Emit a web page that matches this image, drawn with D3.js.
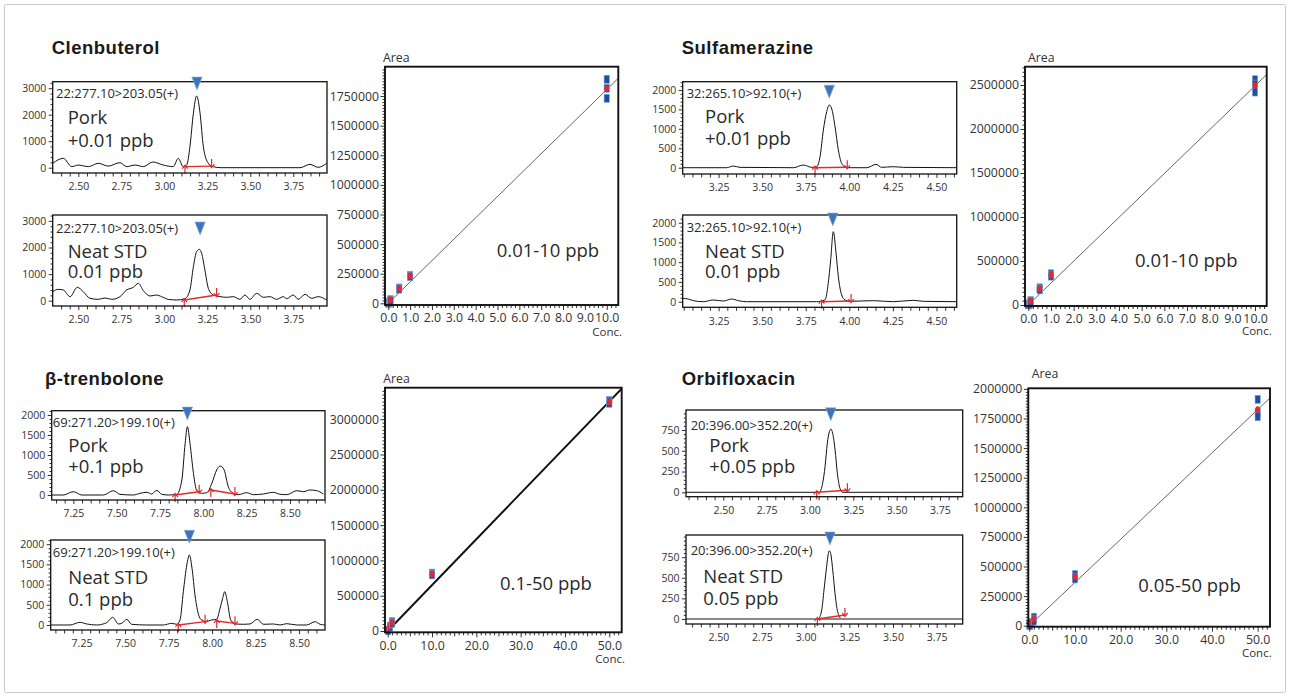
<!DOCTYPE html>
<html>
<head>
<meta charset="utf-8">
<script src="https://cdn.jsdelivr.net/npm/d3@7/dist/d3.min.js"></script>
<style>
html,body{margin:0;padding:0;background:#fff;}
svg{display:block;}
</style>
</head>
<body>
<svg id="chart" width="1290" height="697"></svg>
<script>
// ================= DATA =================
const compounds = ["Clenbuterol", "Sulfamerazine", "β-trenbolone", "Orbifloxacin"];
const transitions = ["22:277.10>203.05(+)", "32:265.10>92.10(+)", "69:271.20>199.10(+)", "20:396.00>352.20(+)"];
const porkLabels = [["Pork", "+0.01 ppb"], ["Pork", "+0.01 ppb"], ["Pork", "+0.1 ppb"], ["Pork", "+0.05 ppb"]];
const stdLabels = [["Neat STD", "0.01 ppb"], ["Neat STD", "0.01 ppb"], ["Neat STD", "0.1 ppb"], ["Neat STD", "0.05 ppb"]];
const rangeLabels = ["0.01-10 ppb", "0.01-10 ppb", "0.1-50 ppb", "0.05-50 ppb"];

// chromatogram tick labels
const clenChromX = [2.50, 2.75, 3.00, 3.25, 3.50, 3.75];
const clenChromY = [0, 1000, 2000, 3000];
const sulfaChromX = [3.25, 3.50, 3.75, 4.00, 4.25, 4.50];
const sulfaChromY = [0, 500, 1000, 1500, 2000];
const trenChromX = [7.25, 7.50, 7.75, 8.00, 8.25, 8.50];
const trenChromY = [0, 500, 1000, 1500, 2000];
const orbiChromX = [2.50, 2.75, 3.00, 3.25, 3.50, 3.75];
const orbiChromY = [0, 250, 500, 750];

// chromatogram traces [retention time (min), intensity]
const clenPorkTrace = [[2.351,166],[2.413,354],[2.462,40],[2.500,100],[2.558,40],[2.616,166],[2.674,60],[2.742,190],[2.781,40],[2.830,100],[2.878,40],[2.933,215],[2.994,100],[3.052,40],[3.081,354],[3.110,38],[3.130,100],[3.149,793],[3.169,2052],[3.188,2706],[3.208,2052],[3.227,793],[3.256,166],[3.285,38],[3.330,0],[3.789,0],[3.847,127],[3.895,14],[3.944,166]];
const clenPorkBase = [[[3.120,40],[3.275,60]]];
const clenPorkApex = [3.190, 2930];
const clenStdTrace = [[2.351,340],[2.384,427],[2.413,403],[2.452,152],[2.494,503],[2.529,340],[2.568,89],[2.616,51],[2.655,102],[2.694,51],[2.742,152],[2.781,403],[2.820,503],[2.849,653],[2.878,377],[2.917,177],[2.955,214],[2.984,152],[3.023,51],[3.071,26],[3.120,76],[3.149,403],[3.169,1280],[3.188,1844],[3.204,1931],[3.217,1781],[3.236,1154],[3.256,465],[3.285,214],[3.324,152],[3.362,127],[3.401,152],[3.440,51],[3.469,214],[3.498,51],[3.537,277],[3.576,127],[3.614,152],[3.653,51],[3.692,152],[3.711,76],[3.750,214],[3.779,51],[3.818,239],[3.857,89],[3.895,152],[3.944,26]];
const clenStdBase = [[[3.116,26],[3.304,214]]];
const clenStdApex = [3.208, 2470];

const sulfaPorkTrace = [[3.044,0],[3.296,0],[3.334,43],[3.373,9],[3.679,0],[3.736,69],[3.784,9],[3.813,26],[3.832,283],[3.851,970],[3.870,1441],[3.885,1613],[3.901,1485],[3.918,1055],[3.937,455],[3.956,112],[3.975,26],[4.004,0],[4.100,0],[4.153,86],[4.186,9],[4.252,26],[4.310,9],[4.616,0]];
const sulfaPorkBase = [[[3.803,0],[3.988,10]]];
const sulfaPorkApex = [3.885, 1790];
const sulfaStdTrace = [[3.044,85],[3.076,68],[3.105,26],[3.162,0],[3.220,43],[3.277,17],[3.325,68],[3.363,26],[3.411,0],[3.813,0],[3.860,43],[3.879,465],[3.893,1056],[3.908,1773],[3.924,1225],[3.937,634],[3.956,170],[3.975,43],[4.004,9],[4.061,17],[4.138,26],[4.252,0],[4.367,35],[4.424,9],[4.616,0]];
const sulfaStdBase = [[[3.841,0],[4.010,17]]];
const sulfaStdApex = [3.905, 1916];

const trenPorkTrace = [[7.125,0],[7.192,0],[7.250,83],[7.298,0],[7.423,0],[7.481,108],[7.519,17],[7.596,0],[7.635,42],[7.674,67],[7.702,25],[7.731,117],[7.760,17],[7.798,0],[7.847,17],[7.876,375],[7.895,1292],[7.908,1708],[7.923,1292],[7.943,542],[7.962,108],[7.991,42],[8.020,58],[8.049,292],[8.077,625],[8.097,725],[8.120,625],[8.144,208],[8.173,42],[8.202,8],[8.250,58],[8.289,8],[8.346,25],[8.404,67],[8.443,17],[8.481,8],[8.539,108],[8.577,83],[8.616,125],[8.654,108],[8.693,25]];
const trenPorkBase = [[[7.837,0],[7.976,83]], [[8.043,125],[8.182,25]]];
const trenPorkApex = [7.908, 1875];
const trenStdTrace = [[7.073,0],[7.184,0],[7.241,66],[7.280,25],[7.337,0],[7.395,58],[7.429,190],[7.462,25],[7.481,41],[7.510,140],[7.538,17],[7.625,0],[7.720,0],[7.768,41],[7.797,17],[7.816,124],[7.835,825],[7.855,1485],[7.870,1733],[7.885,1403],[7.902,743],[7.931,165],[7.960,82],[7.998,124],[8.027,140],[8.046,412],[8.061,660],[8.073,825],[8.088,578],[8.107,124],[8.132,25],[8.180,17],[8.218,25],[8.260,140],[8.295,17],[8.352,25],[8.391,0],[8.429,33],[8.487,0],[8.544,0],[8.592,82],[8.621,17],[8.649,0]];
const trenStdBase = [[[7.806,0],[7.960,82]], [[8.027,99],[8.132,41]]];
const trenStdApex = [7.870, 2022];

const orbiPorkTrace = [[2.285,0],[3.054,0],[3.073,108],[3.087,308],[3.100,590],[3.112,730],[3.120,762],[3.131,710],[3.145,509],[3.158,229],[3.173,48],[3.189,0],[3.881,0]];
const orbiPorkBase = [[[3.039,0],[3.216,24]]];
const orbiPorkApex = [3.120, 862];
const orbiStdTrace = [[2.315,0],[3.072,0],[3.092,109],[3.105,352],[3.120,635],[3.130,797],[3.135,826],[3.143,797],[3.155,595],[3.168,312],[3.183,89],[3.206,0],[3.899,0]];
const orbiStdBase = [[[3.067,0],[3.225,49]]];
const orbiStdApex = [3.139, 898];

// calibration curves
const cal10X = [0,1,2,3,4,5,6,7,8,9,10];
const cal50X = [0,10,20,30,40,50];
const clenCalY = [0,250000,500000,750000,1000000,1250000,1500000,1750000];
const sulfaCalY = [0,500000,1000000,1500000,2000000,2500000];
const trenCalY = [0,500000,1000000,1500000,2000000,2500000,3000000];
const orbiCalY = [0,250000,500000,750000,1000000,1250000,1500000,1750000,2000000];

const clenConc = [0.01, 0.05, 0.1, 0.5, 1, 10];
const clenArea = [[2500,1800,1200],[11000,9000,7000],[32000,28000,25000],[130000,126000,120000],[236000,230000,226000],[1892000,1816000,1731000]];
const clenFit = [180500, 0];
const sulfaConc = [0.01, 0.05, 0.1, 0.5, 1, 10];
const sulfaArea = [[3000,2500,2000],[14000,12500,11000],[50000,45000,40000],[195000,183000,172000],[355000,340000,328000],[2560000,2510000,2420000]];
const sulfaFit = [249000, 0];
const trenConc = [0.1, 0.5, 1, 10, 50];
const trenArea = [[12000,10000,8000],[70000,62000,55000],[135000,123000,110000],[820000,805000,795000],[3265000,3245000,3225000]];
const trenFit = [65000, 0];
const orbiConc = [0.05, 0.1, 0.5, 1, 10, 50];
const orbiArea = [[3000,2500,2000],[6000,5000,4000],[28000,25000,22000],[72000,55000,40000],[432000,410000,395000],[1912000,1800000,1765000]];
const orbiFit = [36500, 0];

// ================= DRAWING =================
const svg = d3.select("#chart");
const FONT = "'Open Sans', 'DejaVu Sans', sans-serif";
const TXT = "#333";
const RED = "#e5282b";
const BLUE_TRI = "#3f74ba";
let clipN = 0;

svg.append("rect").attr("x", 4.5).attr("y", 4.5).attr("width", 1281).attr("height", 688)
  .attr("rx", 2).attr("fill", "#fff").attr("stroke", "#c8c8c8").attr("stroke-width", 1);

function tickRange(a, b, step) {
  const out = [];
  const n0 = Math.ceil(a / step - 1e-9), n1 = Math.floor(b / step + 1e-9);
  for (let n = n0; n <= n1; n++) out.push(+(n * step).toFixed(6));
  return out;
}

function styleAxis(sel, fs) {
  sel.select(".domain").remove();
  sel.selectAll("line").attr("stroke", "#1a1a1a").attr("stroke-width", 0.9);
  sel.attr("font-family", null).attr("font-size", null);
  sel.selectAll("text").attr("fill", TXT).attr("font-family", FONT).attr("font-size", fs)
    .style("font-family", FONT).style("font-size", fs + "px");
}

// titles
const titlePos = [[51.7, 54], [681.7, 53.5], [45, 385], [681.7, 385]];
compounds.forEach((c, i) => {
  svg.append("text").attr("x", titlePos[i][0]).attr("y", titlePos[i][1]).text(c)
    .style("font-family", "'Liberation Sans', Arial, sans-serif").style("font-weight", "bold")
    .style("font-size", "18.5px").style("letter-spacing", "0.5px").attr("fill", "#1a1a1a");
});

function chrom(p) {
  const [x0, y0, x1, y1] = p.box;
  const x = d3.scaleLinear().domain(p.xd).range([x0, x1]);
  const y = d3.scaleLinear().domain(p.yd).range([y1, y0]);
  const g = svg.append("g");
  const cid = "clip" + (++clipN);
  g.append("clipPath").attr("id", cid).append("rect")
    .attr("x", x0).attr("y", y0).attr("width", x1 - x0).attr("height", y1 - y0);

  // trace
  const line = d3.line().x(d => x(d[0])).y(d => y(d[1])).curve(d3.curveMonotoneX);
  g.append("path").datum(p.trace).attr("d", line).attr("clip-path", `url(#${cid})`)
    .attr("fill", "none").attr("stroke", "#111").attr("stroke-width", 1);
  if (p.zeroLine) {
    g.append("line").attr("x1", x0).attr("x2", x1).attr("y1", y(0)).attr("y2", y(0))
      .attr("stroke", "#8a8a8a").attr("stroke-width", 2);
  }
  // integration baselines
  p.base.forEach(seg => {
    const [a, b] = seg;
    const ax = x(a[0]), ay = y(a[1]), bx = x(b[0]), by = y(b[1]);
    g.append("line").attr("x1", ax).attr("y1", ay).attr("x2", bx).attr("y2", by)
      .attr("stroke", RED).attr("stroke-width", 1.4);
    g.append("path").attr("d", `M${ax},${ay + 7}L${ax},${ay - 1.5}M${ax - 2.8},${ay + 2}L${ax},${ay - 1.5}L${ax + 2.8},${ay + 2}`)
      .attr("fill", "none").attr("stroke", RED).attr("stroke-width", 1.2);
    g.append("path").attr("d", `M${bx},${by - 7}L${bx},${by + 1.5}M${bx - 2.8},${by - 2}L${bx},${by + 1.5}L${bx + 2.8},${by - 2}`)
      .attr("fill", "none").attr("stroke", RED).attr("stroke-width", 1.2);
  });

  // texts
  g.append("text").attr("x", p.tx[0]).attr("y", p.ty[0]).text(p.compound)
    .style("font-family", FONT).style("font-size", "13px").attr("fill", "#2a2a2a");
  g.append("text").attr("x", p.tx[1]).attr("y", p.ty[1]).text(p.lines[0])
    .style("font-family", FONT).style("font-size", "18.5px").attr("fill", "#2a2a2a");
  g.append("text").attr("x", p.tx[1]).attr("y", p.ty[2]).text(p.lines[1])
    .style("font-family", FONT).style("font-size", "18.5px").attr("fill", "#2a2a2a");

  // axes
  const xMinor = tickRange(p.xd[0], p.xd[1], 0.05).filter(v => !p.xTicks.some(t => Math.abs(t - v) < 1e-6));
  g.append("g").attr("transform", `translate(0,${y1})`)
    .call(d3.axisBottom(x).tickValues(xMinor).tickSize(3.5).tickFormat(""))
    .call(s => styleAxis(s, 10.5));
  g.append("g").attr("transform", `translate(0,${y1})`)
    .call(d3.axisBottom(x).tickValues(p.xTicks).tickSize(4).tickPadding(6).tickFormat(d3.format(".2f")))
    .call(s => styleAxis(s, 10.5));
  const yMinor = tickRange(Math.max(p.yd[0], 0), p.yd[1], p.yMinor).filter(v => !p.yTicks.includes(v));
  g.append("g").attr("transform", `translate(${x0},0)`)
    .call(d3.axisLeft(y).tickValues(yMinor).tickSize(2.2).tickFormat(""))
    .call(s => styleAxis(s, 10.5));
  g.append("g").attr("transform", `translate(${x0},0)`)
    .call(d3.axisLeft(y).tickValues(p.yTicks).tickSize(4).tickPadding(2.5).tickFormat(d3.format("d")))
    .call(s => styleAxis(s, 10.5));

  // frame
  g.append("rect").attr("x", x0).attr("y", y0).attr("width", x1 - x0).attr("height", y1 - y0)
    .attr("fill", "none").attr("stroke", "#111").attr("stroke-width", 1.3);

  // apex marker
  const cx = x(p.apex[0]), ty = y(p.apex[1]);
  g.append("path").attr("d", `M${cx - 5.2},${ty - 13}L${cx + 5.2},${ty - 13}L${cx},${ty}Z`)
    .attr("fill", BLUE_TRI).attr("stroke", "#8fb0dc").attr("stroke-width", 0.6);
}

function cal(p) {
  const [x0, y0, x1, y1] = p.box;
  const x = d3.scaleLinear().domain(p.xd).range([x0, x1]);
  const y = d3.scaleLinear().domain(p.yd).range([y1, y0]);
  const g = svg.append("g");
  const cid = "clip" + (++clipN);
  g.append("clipPath").attr("id", cid).append("rect")
    .attr("x", x0).attr("y", y0).attr("width", x1 - x0).attr("height", y1 - y0);

  // regression line
  const [slope, icpt] = p.fit;
  g.append("line").attr("clip-path", `url(#${cid})`)
    .attr("x1", x(0)).attr("y1", y(icpt))
    .attr("x2", x(p.xd[1])).attr("y2", y(slope * p.xd[1] + icpt))
    .attr("stroke", p.thick ? "#111" : "#555").attr("stroke-width", p.thick ? 2 : 0.9);

  // replicate points and means
  p.conc.forEach((c, i) => {
    const cxp = x(c);
    p.area[i].forEach(v => {
      g.append("rect").attr("x", cxp - 2.6).attr("y", y(v) - 4).attr("width", 5.2).attr("height", 8)
        .attr("fill", "#1c4ea2").attr("stroke", "#7ea3d8").attr("stroke-width", 0.6);
    });
    const m = d3.mean(p.area[i]);
    if (p.blackFirst && i === 0) {
      g.append("rect").attr("x", cxp - 3).attr("y", y(m) - 4.5).attr("width", 6).attr("height", 8)
        .attr("fill", "#1a1a1a");
    } else {
      g.append("ellipse").attr("cx", cxp).attr("cy", y(m)).attr("rx", 2.4).attr("ry", 3.4).attr("fill", RED);
    }
  });

  // axes
  const FS = 12.3;
  const xMinor = tickRange(0, p.xd[1], p.xMinor).filter(v => !p.xTicks.some(t => Math.abs(t - v) < 1e-6));
  const xMid = p.xMid ? xMinor.filter(v => Math.abs(v / p.xMid - Math.round(v / p.xMid)) < 1e-6) : [];
  const xSmall = xMinor.filter(v => !xMid.includes(v));
  g.append("g").attr("transform", `translate(0,${y1})`)
    .call(d3.axisBottom(x).tickValues(xSmall).tickSize(3).tickFormat(""))
    .call(s => styleAxis(s, FS));
  if (xMid.length) g.append("g").attr("transform", `translate(0,${y1})`)
    .call(d3.axisBottom(x).tickValues(xMid).tickSize(4).tickFormat(""))
    .call(s => styleAxis(s, FS));
  g.append("g").attr("transform", `translate(0,${y1})`)
    .call(d3.axisBottom(x).tickValues(p.xTicks).tickSize(5).tickPadding(3.5).tickFormat(d3.format(".1f")))
    .call(s => styleAxis(s, FS));
  const yMinor = tickRange(0, p.yd[1], p.yMinor).filter(v => !p.yTicks.includes(v));
  g.append("g").attr("transform", `translate(${x0},0)`)
    .call(d3.axisLeft(y).tickValues(yMinor).tickSize(2.5).tickFormat(""))
    .call(s => styleAxis(s, FS));
  g.append("g").attr("transform", `translate(${x0},0)`)
    .call(d3.axisLeft(y).tickValues(p.yTicks).tickSize(4.5).tickPadding(1.5).tickFormat(d3.format("d")))
    .call(s => styleAxis(s, FS));

  g.append("rect").attr("x", x0).attr("y", y0).attr("width", x1 - x0).attr("height", y1 - y0)
    .attr("fill", "none").attr("stroke", "#111").attr("stroke-width", 1.9);

  g.append("text").attr("x", p.area_xy[0]).attr("y", p.area_xy[1]).text("Area")
    .style("font-family", FONT).style("font-size", "12.3px").attr("fill", TXT);
  g.append("text").attr("x", p.conc_xy[0]).attr("y", p.conc_xy[1]).text("Conc.")
    .attr("text-anchor", "end").style("font-family", FONT).style("font-size", "11.5px").attr("fill", TXT);
  g.append("text").attr("x", p.range_xy[0]).attr("y", p.range_xy[1]).text(p.range)
    .style("font-family", FONT).style("font-size", "18.5px").attr("fill", "#2a2a2a");
}

// chromatogram panels
const chromPanels = [
  {box:[52.7,81.7,327,173], xd:[2.351,3.946], yd:[-200,3245], trace:clenPorkTrace, base:clenPorkBase, apex:clenPorkApex,
   xTicks:clenChromX, yTicks:clenChromY, yMinor:200, compound:transitions[0], lines:porkLabels[0], tx:[56,67.7], ty:[98.3,124.3,146.7]},
  {box:[52.7,215,327,306], xd:[2.351,3.946], yd:[-199,3222], trace:clenStdTrace, base:clenStdBase, apex:clenStdApex,
   xTicks:clenChromX, yTicks:clenChromY, yMinor:200, compound:transitions[0], lines:stdLabels[0], tx:[56,67.7], ty:[233.3,258.3,278.3]},
  {box:[682.7,81.7,956.7,174], xd:[3.044,4.616], yd:[-162,2213], trace:sulfaPorkTrace, base:sulfaPorkBase, apex:sulfaPorkApex,
   xTicks:sulfaChromX, yTicks:sulfaChromY, yMinor:100, compound:transitions[1], lines:porkLabels[1], tx:[686.7,705], ty:[98.3,123.3,145]},
  {box:[682.7,215,956.7,307.3], xd:[3.044,4.616], yd:[-142,2195], trace:sulfaStdTrace, base:sulfaStdBase, apex:sulfaStdApex,
   xTicks:sulfaChromX, yTicks:sulfaChromY, yMinor:100, compound:transitions[1], lines:stdLabels[1], tx:[686.7,705], ty:[231.7,258.3,278.3]},
  {box:[51.7,410.7,325,500], xd:[7.125,8.702], yd:[-125,2108], trace:trenPorkTrace, base:trenPorkBase, apex:trenPorkApex,
   xTicks:trenChromX, yTicks:trenChromY, yMinor:100, compound:transitions[2], lines:porkLabels[2], tx:[52.8,68.3], ty:[426.7,451.7,473.3]},
  {box:[50.7,540,325,630], xd:[7.073,8.649], yd:[-124,2104], trace:trenStdTrace, base:trenStdBase, apex:trenStdApex,
   xTicks:trenChromX, yTicks:trenChromY, yMinor:100, compound:transitions[2], lines:stdLabels[2], tx:[52.8,68.3], ty:[556.7,584.3,605.7]},
  {box:[686,410,962.7,496.7], xd:[2.285,3.881], yd:[-53,991], trace:orbiPorkTrace, base:orbiPorkBase, apex:orbiPorkApex,
   xTicks:orbiChromX, yTicks:orbiChromY, yMinor:50, compound:transitions[3], lines:porkLabels[3], tx:[690.7,709.3], ty:[430,451.7,472.7]},
  {box:[686,535,962.7,624], xd:[2.315,3.899], yd:[-61,1019], trace:orbiStdTrace, base:orbiStdBase, apex:orbiStdApex, zeroLine:true,
   xTicks:orbiChromX, yTicks:orbiChromY, yMinor:50, compound:transitions[3], lines:stdLabels[3], tx:[690.7,703.3], ty:[555,583.3,605]}
];
chromPanels.forEach(chrom);

const calPanels = [
  {box:[385,66.7,618.3,305], xd:[-0.15,10.53], yd:[-14000,1998000], conc:clenConc, area:clenArea, fit:clenFit, blackFirst:true,
   xTicks:cal10X, xMinor:0.2, yTicks:clenCalY, yMinor:25000, area_xy:[383,61.7], conc_xy:[622,336], range:rangeLabels[0], range_xy:[496.7,256.7]},
  {box:[1025,66.7,1266.7,306], xd:[-0.146,10.516], yd:[-11400,2708000], conc:sulfaConc, area:sulfaArea, fit:sulfaFit, blackFirst:true,
   xTicks:cal10X, xMinor:0.2, yTicks:sulfaCalY, yMinor:50000, area_xy:[1028,62], conc_xy:[1271.7,335], range:rangeLabels[1], range_xy:[1135,266.7]},
  {box:[385,387.7,621.7,632.3], xd:[-0.61,52.8], yd:[-18400,3446000], conc:trenConc, area:trenArea, fit:trenFit, thick:true,
   xTicks:cal50X, xMinor:1, xMid:5, yTicks:trenCalY, yMinor:50000, area_xy:[383.3,383], conc_xy:[625,663.3], range:rangeLabels[2], range_xy:[500,590]},
  {box:[1028.3,388.3,1270,626.7], xd:[-0.22,52.7], yd:[-8400,2005000], conc:orbiConc, area:orbiArea, fit:orbiFit,
   xTicks:cal50X, xMinor:1, xMid:5, yTicks:orbiCalY, yMinor:25000, area_xy:[1031.7,378.3], conc_xy:[1271.7,656.7], range:rangeLabels[3], range_xy:[1138.3,591.7]}
];
calPanels.forEach(cal);
</script>
</body>
</html>
